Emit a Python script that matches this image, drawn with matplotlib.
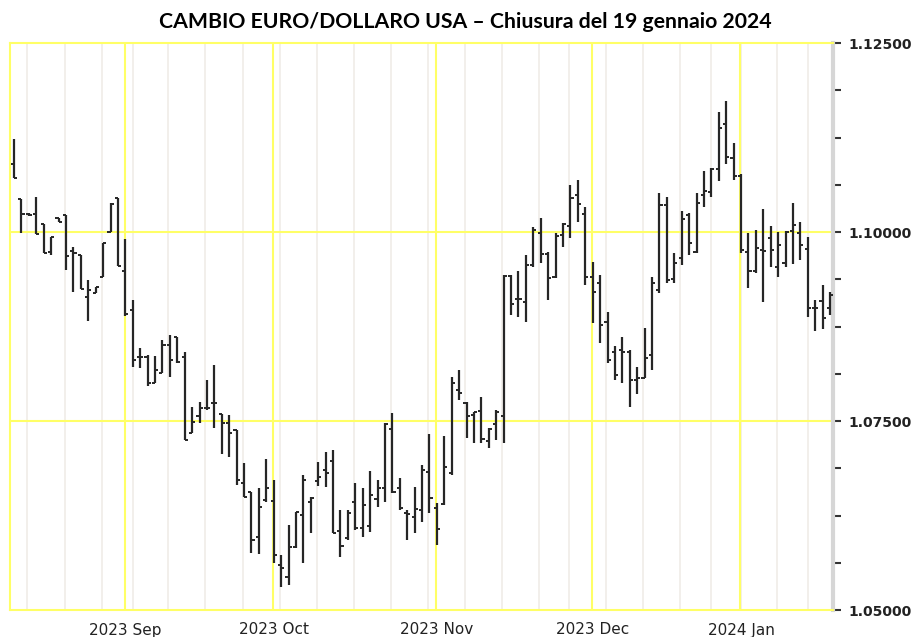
import matplotlib
matplotlib.use('Agg')
import matplotlib.pyplot as plt
import numpy as np
import pandas as pd

# trading days (NYSE calendar) shown on the chart
holidays = ['2023-09-04', '2023-11-23', '2023-12-25', '2024-01-01', '2024-01-15']
dates = pd.bdate_range('2023-08-11', '2024-01-19')
dates = dates[~dates.isin(pd.to_datetime(holidays))]

opens = [1.1090, 1.1044, 1.1024, 1.1024, 1.1011, 1.0973, 1.1018, 1.1022, 1.0975, 1.0970,
         1.0914, 1.0919, 1.0940, 1.1000, 1.1045, 1.0948, 1.0897, 1.0835, 1.0835, 1.0800,
         1.0813, 1.0850, 1.0861, 1.0835, 1.0734, 1.0757, 1.0767, 1.0774, 1.0759, 1.0747,
         1.0738, 1.0668, 1.0656, 1.0596, 1.0645, 1.0644, 1.0559, 1.0544, 1.0583, 1.0626,
         1.0643, 1.0671, 1.0685, 1.0697, 1.0604, 1.0595, 1.0643, 1.0608, 1.0611, 1.0647,
         1.0661, 1.0739, 1.0661, 1.0628, 1.0623, 1.0632, 1.0682, 1.0635, 1.0640, 1.0681,
         1.0791, 1.0774, 1.0758, 1.0763, 1.0723, 1.0746, 1.0757, 1.0942, 1.0911, 1.0907,
         1.0956, 1.0999, 1.0971, 1.0940, 1.0996, 1.1008, 1.1049, 1.1024, 1.0940, 1.0932,
         1.0881, 1.0841, 1.0844, 1.0841, 1.0804, 1.0807, 1.0837, 1.0923, 1.1036, 1.0938,
         1.0966, 1.1022, 1.0973, 1.1049, 1.1053, 1.1083, 1.1143, 1.1098, 1.1074, 1.0973,
         1.0948, 1.0976, 1.0992, 1.0954, 1.0959, 1.1001, 1.0999, 1.0977, 1.0899, 1.0909,
         1.0899]
highs = [1.1123, 1.1044, 1.1025, 1.1046, 1.1011, 1.0993, 1.1018, 1.1022, 1.0980, 1.0970,
         1.0936, 1.0927, 1.0985, 1.1038, 1.1045, 1.0991, 1.0910, 1.0846, 1.0837, 1.0836,
         1.0857, 1.0864, 1.0861, 1.0841, 1.0768, 1.0775, 1.0804, 1.0824, 1.0759, 1.0758,
         1.0738, 1.0694, 1.0656, 1.0661, 1.0700, 1.0672, 1.0573, 1.0612, 1.0630, 1.0678,
         1.0649, 1.0696, 1.0709, 1.0712, 1.0632, 1.0632, 1.0668, 1.0661, 1.0684, 1.0672,
         1.0747, 1.0760, 1.0675, 1.0632, 1.0663, 1.0692, 1.0733, 1.0641, 1.0730, 1.0808,
         1.0817, 1.0775, 1.0762, 1.0782, 1.0741, 1.0764, 1.0943, 1.0943, 1.0948, 1.0970,
         1.1007, 1.1018, 1.0973, 1.0999, 1.1012, 1.1062, 1.1069, 1.1033, 1.0960, 1.0943,
         1.0894, 1.0849, 1.0861, 1.0844, 1.0821, 1.0873, 1.0940, 1.1052, 1.1046, 1.0972,
         1.1028, 1.1025, 1.1052, 1.1081, 1.1085, 1.1159, 1.1173, 1.1118, 1.1077, 1.0999,
         1.1003, 1.1030, 1.1008, 1.1000, 1.1001, 1.1038, 1.1013, 1.0993, 1.0910, 1.0930,
         1.0921]
lows = [1.1071, 1.0999, 1.1021, 1.0997, 1.0972, 1.0970, 1.1013, 1.0950, 1.0921, 1.0925,
        1.0882, 1.0919, 1.0940, 1.1000, 1.0955, 1.0889, 1.0821, 1.0820, 1.0796, 1.0800,
        1.0813, 1.0808, 1.0827, 1.0725, 1.0734, 1.0747, 1.0764, 1.0741, 1.0706, 1.0702,
        1.0665, 1.0649, 1.0575, 1.0574, 1.0643, 1.0562, 1.0530, 1.0533, 1.0582, 1.0562,
        1.0602, 1.0664, 1.0663, 1.0602, 1.0570, 1.0592, 1.0606, 1.0596, 1.0603, 1.0636,
        1.0643, 1.0655, 1.0632, 1.0592, 1.0602, 1.0616, 1.0628, 1.0586, 1.0639, 1.0678,
        1.0778, 1.0727, 1.0721, 1.0721, 1.0714, 1.0725, 1.0721, 1.0890, 1.0887, 1.0881,
        1.0954, 1.0959, 1.0910, 1.0939, 1.0980, 1.0992, 1.1013, 1.0930, 1.0880, 1.0853,
        1.0827, 1.0804, 1.0800, 1.0768, 1.0786, 1.0807, 1.0817, 1.0919, 1.0932, 1.0932,
        1.0956, 1.0970, 1.0972, 1.1033, 1.1046, 1.1067, 1.1090, 1.1069, 1.0972, 1.0926,
        1.0946, 1.0907, 1.0954, 1.0940, 1.0954, 1.0958, 1.0963, 1.0887, 1.0869, 1.0872,
        1.0890]
closes = [1.1071, 1.1024, 1.1022, 1.0997, 1.0972, 1.0993, 1.1013, 1.0968, 1.0972, 1.0925,
          1.0923, 1.0927, 1.0985, 1.1037, 1.0955, 1.0891, 1.0831, 1.0835, 1.0800, 1.0817,
          1.0850, 1.0831, 1.0828, 1.0725, 1.0749, 1.0767, 1.0767, 1.0774, 1.0747, 1.0734,
          1.0672, 1.0649, 1.0592, 1.0636, 1.0661, 1.0573, 1.0555, 1.0583, 1.0630, 1.0672,
          1.0648, 1.0676, 1.0681, 1.0602, 1.0585, 1.0628, 1.0608, 1.0639, 1.0652, 1.0661,
          1.0746, 1.0656, 1.0635, 1.0627, 1.0633, 1.0685, 1.0648, 1.0607, 1.0689, 1.0800,
          1.0787, 1.0757, 1.0762, 1.0726, 1.0739, 1.0762, 1.0942, 1.0905, 1.0911, 1.0956,
          1.1003, 1.0971, 1.0939, 1.0995, 1.1011, 1.1045, 1.1037, 1.0940, 1.0921, 1.0877,
          1.0831, 1.0811, 1.0841, 1.0804, 1.0807, 1.0833, 1.0932, 1.1036, 1.0936, 1.0959,
          1.1017, 1.0985, 1.1038, 1.1054, 1.1083, 1.1138, 1.1099, 1.1074, 1.0976, 1.0948,
          1.0979, 1.0975, 1.0976, 1.0983, 1.1000, 1.1009, 1.0983, 1.0899, 1.0899, 1.0886,
          1.0917]

month_labels = ['2023 Sep', '2023 Oct', '2023 Nov', '2023 Dec', '2024 Jan']

df = pd.DataFrame({'open': opens, 'high': highs, 'low': lows, 'close': closes}, index=dates)
x = np.arange(len(df))

YELLOW = '#ffff66'
GREY = '#f1eee9'
BAR = '#262626'

fig = plt.figure(figsize=(9.19, 6.37), dpi=100)
ax = fig.add_axes([10 / 919, 1 - 610 / 637, 823 / 919, 567 / 637])

# month starts and week starts
month_idx = [np.where(df.index.month == m)[0][0] for m in [9, 10, 11, 12, 1]]
weeks = df.index.to_period('W')
week_idx = [i for i in range(1, len(df)) if weeks[i] != weeks[i - 1]]
for i in week_idx:
    pos = i + 0.8 if df.index[i].weekday() == 0 else i
    ax.axvline(pos, color=GREY, lw=1.3, zorder=0)
for i in month_idx:
    ax.axvline(i - 0.1, color=YELLOW, lw=1.5, zorder=1)
for v in [1.075, 1.10]:
    ax.axhline(v, color=YELLOW, lw=1.5, zorder=1)

# OHLC bars
w = 0.42
ax.vlines(x, df['low'], df['high'], color=BAR, lw=1.6, zorder=3)
ax.hlines(df['open'], x - w, x, color=BAR, lw=1.4, zorder=3)
ax.hlines(df['close'], x, x + w, color=BAR, lw=1.4, zorder=3)

ax.set_xlim(-0.55, 110.4)
ax.set_ylim(1.05, 1.125)

for s in ['left', 'top', 'bottom']:
    ax.spines[s].set_color(YELLOW)
    ax.spines[s].set_linewidth(1.5)
ax.spines['right'].set_color('#d6d6d6')
ax.spines['right'].set_linewidth(3)

ax.yaxis.tick_right()
ax.set_yticks(np.arange(1.05, 1.12501, 0.025))
ax.set_yticks(np.arange(1.05, 1.12501, 0.00625), minor=True)
ax.set_yticklabels(['%.5f' % v for v in np.arange(1.05, 1.12501, 0.025)],
                   fontweight='bold', fontsize=10, color='#222222')
ax.tick_params(axis='y', which='both', direction='out', length=6, width=1.5,
               color='#333333', pad=5)

ax.set_xticks(month_idx)
ax.set_xticklabels(month_labels, fontsize=11, color='#222222')
ax.tick_params(axis='x', length=0, pad=9)

fig.text(465 / 919, 1 - 22 / 637,
         'CAMBIO EURO/DOLLARO USA \u2013 Chiusura del 19 gennaio 2024',
         ha='center', va='center', fontsize=15.3, fontweight='bold', family='Lato')

fig.savefig('out.png', dpi=100)
